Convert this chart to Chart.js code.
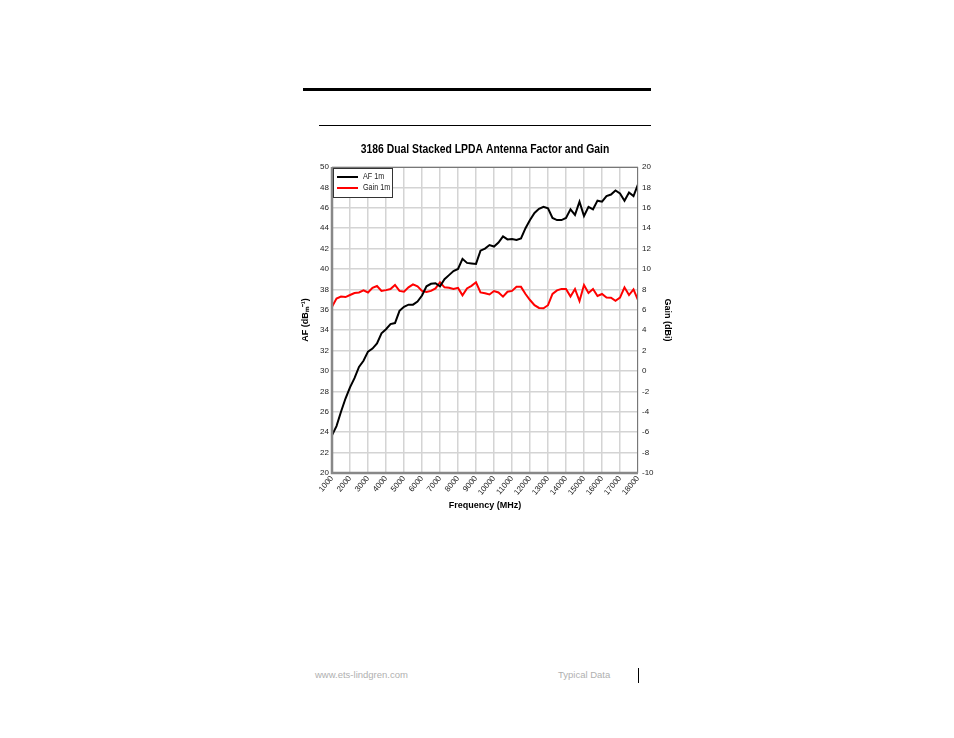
<!DOCTYPE html>
<html><head><meta charset="utf-8">
<script src="https://cdn.jsdelivr.net/npm/chart.js@4/dist/chart.umd.min.js"></script>
<style>
html,body{margin:0;padding:0;background:#fff;width:954px;height:738px;overflow:hidden;font-family:"Liberation Sans",Arial,sans-serif;}
#wrap{position:absolute;left:300px;top:142px;width:375px;height:378px;}
.line{position:absolute;background:#000;}
.foot{position:absolute;font-size:9.5px;color:#b0b0b0;}
</style></head>
<body>
<div class="line" style="left:303px;top:88px;width:348px;height:2.5px;"></div>
<div class="line" style="left:319px;top:125px;width:332px;height:1px;"></div>
<div class="foot" style="left:315px;top:669px;">www.ets-lindgren.com</div>
<div class="foot" style="left:558px;top:669px;">Typical Data</div>
<div class="line" style="left:638px;top:668px;width:1px;height:15px;"></div>
<div id="wrap"><canvas id="c"></canvas></div>
<script>
const frequencies = [1000,1250,1500,1750,2000,2250,2500,2750,3000,3250,3500,3750,4000,4250,4500,4750,5000,5250,5500,5750,6000,6250,6500,6750,7000,7250,7500,7750,8000,8250,8500,8750,9000,9250,9500,9750,10000,10250,10500,10750,11000,11250,11500,11750,12000,12250,12500,12750,13000,13250,13500,13750,14000,14250,14500,14750,15000,15250,15500,15750,16000,16250,16500,16750,17000,17250,17500,17750,18000];
const af1m = [23.7,24.6,26.0,27.3,28.4,29.3,30.4,31.0,31.9,32.2,32.7,33.7,34.1,34.6,34.7,35.9,36.3,36.5,36.5,36.8,37.4,38.3,38.55,38.6,38.3,39.0,39.4,39.8,40.0,41.0,40.6,40.55,40.5,41.8,42.0,42.35,42.2,42.6,43.2,42.9,42.95,42.85,43.0,44.0,44.8,45.5,45.9,46.1,45.95,45.0,44.8,44.8,45.0,45.85,45.3,46.6,45.2,46.1,45.85,46.7,46.6,47.15,47.3,47.7,47.4,46.7,47.5,47.15,48.3];
const gain1m = [6.3,7.1,7.3,7.25,7.45,7.65,7.7,7.9,7.7,8.15,8.33,7.85,7.93,8.03,8.43,7.85,7.77,8.2,8.5,8.3,7.85,7.75,7.85,8.1,8.7,8.2,8.17,8.05,8.15,7.42,8.1,8.35,8.7,7.7,7.62,7.5,7.84,7.7,7.29,7.77,7.85,8.25,8.25,7.55,6.96,6.45,6.18,6.15,6.45,7.55,7.9,8.05,8.05,7.3,8.04,6.85,8.43,7.65,8.04,7.35,7.55,7.2,7.19,6.88,7.19,8.2,7.45,8.0,6.96];
const seriesLabels = ['AF 1m','Gain 1m'];
const titleText = '3186 Dual Stacked LPDA Antenna Factor and Gain';
const xTitle = 'Frequency (MHz)';
const yLeftTitle = 'AF (dBₘ⁻¹)';
const yRightTitle = 'Gain (dBi)';

const FONT = '"Liberation Sans", Arial, sans-serif';

function narrowText(ctx, text, x, y, sx, align){
  ctx.save();
  ctx.translate(x, y);
  ctx.scale(sx, 1);
  ctx.textAlign = align;
  ctx.fillText(text, 0, 0);
  ctx.restore();
}

const frame = {
  id:'frame',
  afterDatasetsDraw(chart){
    const {ctx, chartArea:a} = chart;
    ctx.save();
    ctx.strokeStyle = '#777'; ctx.lineWidth = 1;
    ctx.strokeRect(a.left+0.5, a.top+0.5, a.right-a.left-1, a.bottom-a.top-1);
    ctx.lineWidth = 2.5; ctx.strokeStyle='#888';
    ctx.beginPath(); ctx.moveTo(a.left, a.top); ctx.lineTo(a.left, a.bottom); ctx.lineTo(a.right, a.bottom); ctx.stroke();
    // title
    ctx.fillStyle = '#000'; ctx.font = 'bold 12.5px '+FONT; ctx.textBaseline='middle';
    narrowText(ctx, titleText, (a.left+a.right)/2, a.top-17, 0.83, 'center');
    // legend
    const x0 = a.left+1, y0 = a.top+1, w = 59, h = 29;
    ctx.fillStyle='#fff'; ctx.fillRect(x0,y0,w,h);
    ctx.lineWidth=1; ctx.strokeStyle='#333'; ctx.strokeRect(x0+0.5,y0+0.5,w,h);
    chart.data.datasets.forEach((ds,i)=>{
      const yy = y0 + 9 + i*11;
      ctx.strokeStyle = ds.borderColor; ctx.lineWidth=2;
      ctx.beginPath(); ctx.moveTo(x0+4, yy); ctx.lineTo(x0+25, yy); ctx.stroke();
      ctx.fillStyle='#222'; ctx.font='8.5px '+FONT; ctx.textBaseline='middle';
      narrowText(ctx, ds.label, x0+30, yy, 0.85, 'left');
    });
    ctx.restore();
  }
};

new Chart(document.getElementById('c'), {
  type:'line',
  data:{
    datasets:[
      {label:seriesLabels[0], data:frequencies.map((f,i)=>({x:f,y:af1m[i]})), borderColor:'#000', borderWidth:2, pointRadius:0, yAxisID:'y', tension:0},
      {label:seriesLabels[1], data:frequencies.map((f,i)=>({x:f,y:gain1m[i]})), borderColor:'#f00', borderWidth:2, pointRadius:0, yAxisID:'y2', tension:0}
    ]
  },
  options:{
    responsive:true, maintainAspectRatio:false, animation:false,
    layout:{padding:{top:25}},
    plugins:{
      legend:{display:false},
      tooltip:{enabled:false},
      title:{display:false}
    },
    scales:{
      x:{type:'linear', min:1000, max:18000,
        ticks:{stepSize:1000, minRotation:50, maxRotation:50, color:'#222', font:{family:FONT,size:8}, padding:1, callback:v=>String(v)},
        grid:{color:'#d4d4d4', lineWidth:1.5, drawTicks:false},
        border:{display:false},
        title:{display:true, text:xTitle, color:'#000', font:{family:FONT,size:9,weight:'bold'}, padding:{top:4,bottom:9}},
        afterFit(s){ s.height = 47; }
      },
      y:{type:'linear', position:'left', min:20, max:50,
        ticks:{stepSize:2, color:'#222', font:{family:FONT,size:8}, padding:3},
        grid:{color:'#d4d4d4', lineWidth:1.5, drawTicks:false},
        border:{display:false},
        title:{display:true, text:yLeftTitle, color:'#000', font:{family:FONT,size:9,weight:'bold'}, padding:{top:0,bottom:2}},
        afterFit(s){ s.width = 32; }
      },
      y2:{type:'linear', position:'right', min:-10, max:20,
        ticks:{stepSize:2, color:'#222', font:{family:FONT,size:8}, padding:4},
        grid:{display:false, drawTicks:false},
        border:{display:false},
        title:{display:true, text:yRightTitle, color:'#000', font:{family:FONT,size:9,weight:'bold'}, padding:{top:2,bottom:0}},
        afterFit(s){ s.width = 37; }
      }
    }
  },
  plugins:[frame]
});
</script>
</body></html>
